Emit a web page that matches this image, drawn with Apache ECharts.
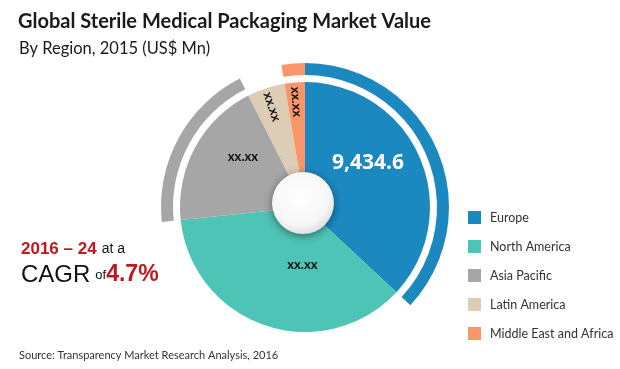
<!DOCTYPE html>
<html>
<head>
<meta charset="utf-8">
<script src="https://cdn.jsdelivr.net/npm/echarts@6/dist/echarts.min.js"></script>
<style>html,body{margin:0;padding:0;background:#fff;}#c{width:620px;height:369px;}</style>
</head>
<body>
<div id="c"></div>
<script>
var categories = ['Europe', 'North America', 'Asia Pacific', 'Latin America', 'Middle East and Africa'];
var values = [9434.6, 9300, 4900, 1240, 670];
var valueLabels = ['9,434.6', 'xx.xx', 'xx.xx', 'xx.xx', 'xx.xx'];
var colors = ['#1B88BF', '#4DC4B5', '#A6A6A6', '#DDCDB4', '#F8966A'];
var ringShown = [true, false, true, false, true];

var chart = echarts.init(document.getElementById('c'), null, {renderer: 'canvas'});
var center = [305, 207];

var mainData = categories.map(function (n, i) {
  return {name: n, value: values[i], itemStyle: {color: colors[i]}};
});
var ringData = categories.map(function (n, i) {
  return {name: n, value: values[i], itemStyle: {color: ringShown[i] ? colors[i] : 'rgba(0,0,0,0)'}};
});
var labelDataA = categories.map(function (n, i) {
  return {name: n, value: values[i], label: {show: i < 3}};
});
var rotB = [0, 0, 0, -71, -86];
var labelDataB = categories.map(function (n, i) {
  return {name: n, value: values[i], label: {show: i >= 3, rotate: rotB[i]}};
});
var adj = [[-8, -13], [22, -16], [6, -13], [0, 0], [0, 0]];

var option = {
  animation: false,
  title: [
    {text: 'Global Sterile Medical Packaging Market Value', left: 13, top: 7,
     textStyle: {fontFamily: 'Lato', fontWeight: 'bold', fontSize: 20, color: '#1a1a1a'}},
    {text: 'By Region, 2015 (US$ Mn)', left: 14, top: 35,
     textStyle: {fontFamily: 'Lato', fontWeight: 'normal', fontSize: 16.5, color: '#1a1a1a'}},
    {text: '{a|2016 – 24} {b|at a}\n{c|CAGR} {d|of}{e|4.7%}', left: 16, top: 232,
     textStyle: {fontWeight: 'normal', rich: {
       a: {fontFamily: 'Liberation Sans', fontWeight: 'bold', fontSize: 17, color: '#C3161C', lineHeight: 24},
       b: {fontFamily: 'Liberation Sans', fontWeight: 'normal', fontSize: 14, color: '#111', lineHeight: 24},
       c: {fontFamily: 'Liberation Sans', fontWeight: 'normal', fontSize: 24, color: '#111', lineHeight: 28},
       d: {fontFamily: 'Liberation Sans', fontWeight: 'normal', fontSize: 13, color: '#111', lineHeight: 28},
       e: {fontFamily: 'Liberation Sans', fontWeight: 'bold', fontSize: 23, color: '#C3161C', lineHeight: 28}
     }}},
    {text: 'Source: Transparency Market Research Analysis, 2016', left: 14, top: 345,
     textStyle: {fontFamily: 'Lato', fontWeight: 'normal', fontSize: 11, color: '#333'}}
  ],
  legend: {
    orient: 'vertical', left: 463, top: 206, itemWidth: 13, itemHeight: 13, itemGap: 16,
    icon: 'rect', data: categories,
    textStyle: {fontFamily: 'Lato', fontSize: 12.5, color: '#333', padding: [0, 0, 0, 4]}
  },
  series: [
    {type: 'pie', center: center, radius: [0, 125], startAngle: 90, clockwise: true,
     silent: true, label: {show: false}, labelLine: {show: false}, data: mainData},
    {type: 'pie', center: center, radius: [132, 144], startAngle: 90, clockwise: true,
     silent: true, label: {show: false}, labelLine: {show: false}, data: ringData,
     legendHoverLink: false},
    {type: 'pie', center: center, radius: [24, 125], startAngle: 90, clockwise: true,
     silent: true, itemStyle: {color: 'rgba(0,0,0,0)'}, labelLine: {show: false},
     label: {position: 'inside', formatter: function (p) { return valueLabels[p.dataIndex]; },
       fontFamily: 'Lato', fontWeight: 'bold', fontSize: 13, color: '#111'},
     labelLayout: function (p) { return {dx: adj[p.dataIndex][0], dy: adj[p.dataIndex][1]}; },
     data: labelDataA.map(function (d, i) {
       if (i === 0) d.label = {show: true, fontSize: 21, color: '#fff', fontFamily: 'Open Sans'};
       return d;
     })},
    {type: 'pie', center: center, radius: [80, 125], startAngle: 90, clockwise: true,
     silent: true, itemStyle: {color: 'rgba(0,0,0,0)'}, labelLine: {show: false},
     label: {position: 'inside', formatter: function (p) { return valueLabels[p.dataIndex]; },
       fontFamily: 'Lato', fontWeight: 'bold', fontSize: 13, color: '#111'},
     data: labelDataB},
    {type: 'pie', center: [303, 203], radius: [0, 31], silent: true,
     label: {show: false}, labelLine: {show: false},
     itemStyle: {
       color: {type: 'radial', x: 0.45, y: 0.4, r: 0.65, colorStops: [
         {offset: 0, color: '#ffffff'}, {offset: 0.7, color: '#f7f7f7'}, {offset: 1, color: '#d9d9d9'}]},
       shadowBlur: 8, shadowColor: 'rgba(0,0,0,0.45)', shadowOffsetY: 2
     },
     data: [{name: 'center', value: 1}], legendHoverLink: false}
  ]
};
chart.setOption(option);
</script>
</body>
</html>
